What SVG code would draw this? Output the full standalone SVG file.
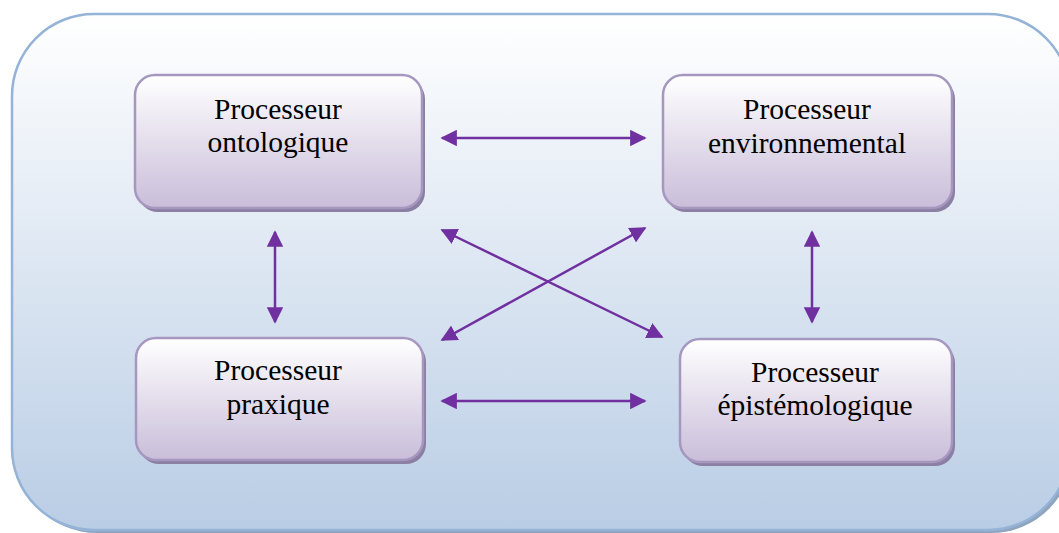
<svg xmlns="http://www.w3.org/2000/svg" width="1059" height="533" viewBox="0 0 1059 533">
<defs>
<linearGradient id="bg" x1="0" y1="0" x2="0" y2="1">
<stop offset="0" stop-color="#ffffff"/>
<stop offset="1" stop-color="#b9cde5"/>
</linearGradient>
<linearGradient id="ng" x1="0" y1="0" x2="0" y2="1">
<stop offset="0" stop-color="#ffffff"/>
<stop offset="1" stop-color="#c9bdd9"/>
</linearGradient>
<marker id="ah" viewBox="0 0 10 10" refX="9" refY="5" markerWidth="6.6" markerHeight="6.6" markerUnits="strokeWidth" orient="auto-start-reverse">
<path d="M0,0 L10,5 L0,10 Z" fill="#7030a0"/>
</marker>
<style>
.node rect.box{fill:url(#ng);stroke:#a697c0;stroke-width:2.5}
.node rect.sh{fill:#8b7fa3}
.node text{font-family:"Liberation Serif","Times New Roman",serif;font-size:29.5px;fill:#000;text-anchor:middle}
.conn line{stroke:#7030a0;stroke-width:2.5;marker-start:url(#ah);marker-end:url(#ah)}
</style>
</defs>
<g id="background">
<rect x="15" y="17" width="1058" height="516" rx="82" fill="#8ea4bf"/>
<rect x="12" y="14" width="1058" height="516" rx="82" fill="url(#bg)" stroke="#95b3d7" stroke-width="2.5"/>
</g>
<g id="node-ontologique" class="node">
<rect class="sh" x="138" y="79" width="287" height="133" rx="20"/>
<rect class="box" x="135" y="75" width="287" height="133" rx="20"/>
<text x="278" y="119">Processeur</text>
<text x="278" y="152">ontologique</text>
</g>
<g id="node-environnemental" class="node">
<rect class="sh" x="666" y="79" width="289" height="133" rx="20"/>
<rect class="box" x="663" y="75" width="289" height="133" rx="20"/>
<text x="807" y="119">Processeur</text>
<text x="807" y="153">environnemental</text>
</g>
<g id="node-praxique" class="node">
<rect class="sh" x="139" y="342" width="287" height="122" rx="20"/>
<rect class="box" x="136" y="338" width="287" height="122" rx="20"/>
<text x="278" y="380">Processeur</text>
<text x="278" y="414">praxique</text>
</g>
<g id="node-epistemologique" class="node">
<rect class="sh" x="683" y="343" width="272" height="123" rx="20"/>
<rect class="box" x="680" y="339" width="272" height="123" rx="20"/>
<text x="815" y="382">Processeur</text>
<text x="815" y="415">épistémologique</text>
</g>
<g id="connectors" class="conn">
<line x1="442" y1="138" x2="645" y2="138"/>
<line x1="442" y1="401" x2="645" y2="401"/>
<line x1="275" y1="232" x2="275" y2="322"/>
<line x1="812" y1="232" x2="812" y2="322"/>
<line x1="442" y1="230" x2="662" y2="337"/>
<line x1="645" y1="228" x2="442" y2="340"/>
</g>
</svg>
